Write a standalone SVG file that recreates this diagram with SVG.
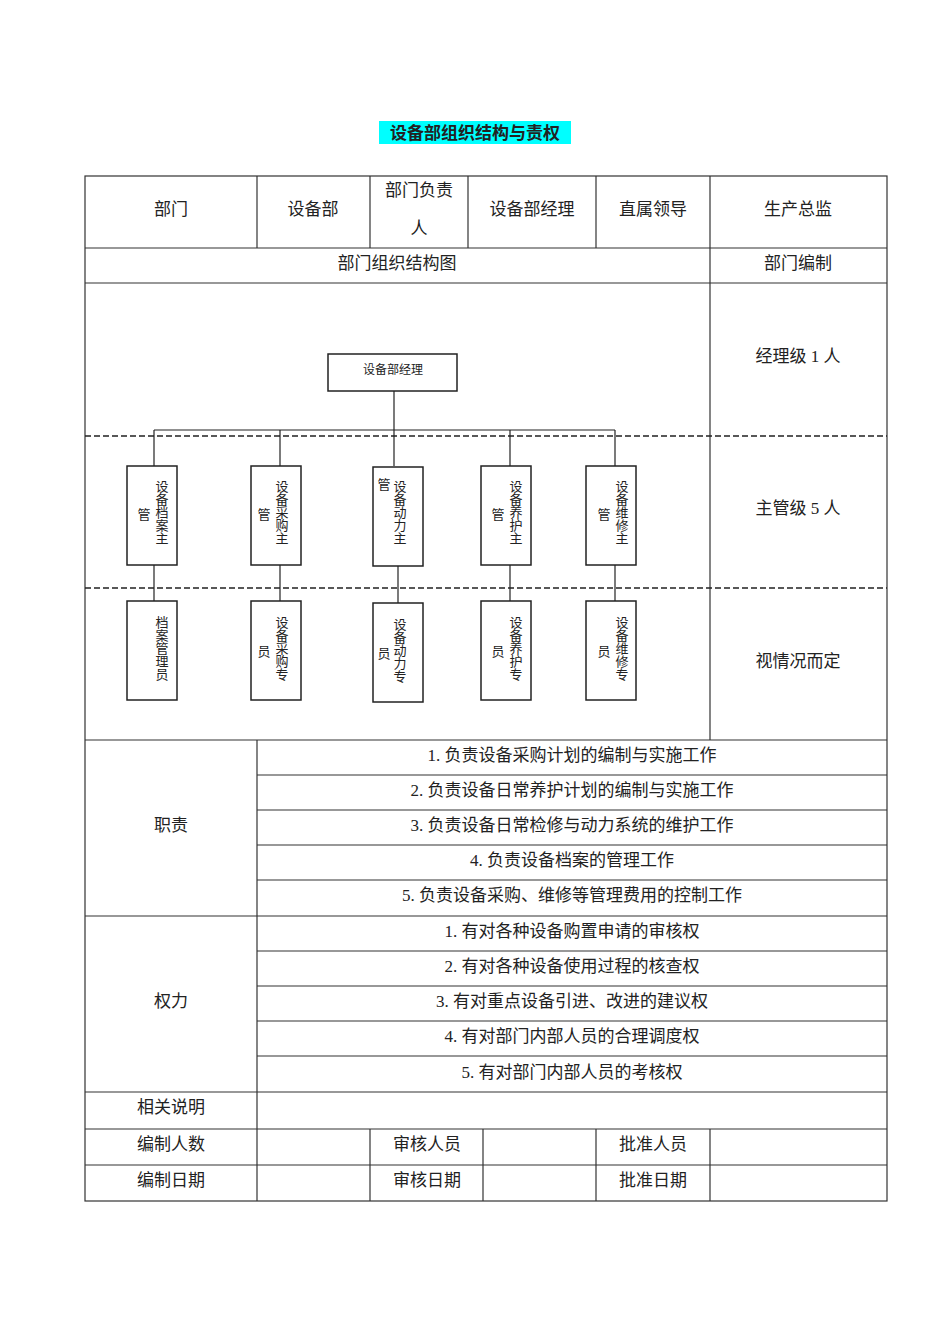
<svg xmlns="http://www.w3.org/2000/svg" width="950" height="1344" viewBox="0 0 950 1344">
<style>
text{font-family:"Liberation Serif","Noto Sans CJK SC",serif;fill:#222}
.t{font-size:17px;text-anchor:middle}
.s{font-size:12px;text-anchor:middle}
.v{font-size:13px;writing-mode:vertical-rl}
.g line{stroke:#333;stroke-width:1.2}
.d{stroke:#222;stroke-width:1.5;stroke-dasharray:6,3}
.b{fill:#fff;stroke:#222;stroke-width:1.5}
.c line{stroke:#222;stroke-width:1.2}
</style>
<rect x="379" y="121" width="192" height="23" fill="#00ffff"/>
<text x="475" y="139" font-size="17" font-weight="bold" text-anchor="middle">设备部组织结构与责权</text>
<g class="g" id="grid">
<rect x="85" y="176" width="802" height="1025" fill="none" stroke="#333" stroke-width="1.2"/>
<line x1="257" y1="176" x2="257" y2="248"/><line x1="370" y1="176" x2="370" y2="248"/><line x1="468" y1="176" x2="468" y2="248"/><line x1="596" y1="176" x2="596" y2="248"/>
<line x1="710" y1="176" x2="710" y2="740"/>
<line x1="85" y1="248" x2="887" y2="248"/><line x1="85" y1="283" x2="887" y2="283"/><line x1="85" y1="740" x2="887" y2="740"/>
<line x1="257" y1="740" x2="257" y2="1201"/>
<line x1="257" y1="775" x2="887" y2="775"/><line x1="257" y1="810" x2="887" y2="810"/><line x1="257" y1="845" x2="887" y2="845"/><line x1="257" y1="880" x2="887" y2="880"/>
<line x1="85" y1="916" x2="887" y2="916"/>
<line x1="257" y1="951" x2="887" y2="951"/><line x1="257" y1="986" x2="887" y2="986"/><line x1="257" y1="1021" x2="887" y2="1021"/><line x1="257" y1="1056" x2="887" y2="1056"/>
<line x1="85" y1="1092" x2="887" y2="1092"/><line x1="85" y1="1129" x2="887" y2="1129"/><line x1="85" y1="1165" x2="887" y2="1165"/>
<line x1="370" y1="1129" x2="370" y2="1201"/><line x1="483" y1="1129" x2="483" y2="1201"/><line x1="596" y1="1129" x2="596" y2="1201"/><line x1="710" y1="1129" x2="710" y2="1201"/>
</g>
<line class="d" x1="85" y1="436" x2="887" y2="436"/>
<line class="d" x1="85" y1="588" x2="887" y2="588"/>
<g id="labels">
<text class="t" x="171" y="215">部门</text><text class="t" x="313" y="215">设备部</text>
<text class="t" x="419" y="196">部门负责</text><text class="t" x="419" y="234">人</text>
<text class="t" x="532" y="215">设备部经理</text><text class="t" x="653" y="215">直属领导</text><text class="t" x="798" y="215">生产总监</text>
<text class="t" x="397" y="269">部门组织结构图</text><text class="t" x="798" y="269">部门编制</text>
<text class="t" x="798" y="362">经理级 1 人</text><text class="t" x="798" y="514">主管级 5 人</text><text class="t" x="798" y="667">视情况而定</text>
<text class="t" x="171" y="831">职责</text>
<text class="t" x="572" y="761">1. 负责设备采购计划的编制与实施工作</text>
<text class="t" x="572" y="796">2. 负责设备日常养护计划的编制与实施工作</text>
<text class="t" x="572" y="831">3. 负责设备日常检修与动力系统的维护工作</text>
<text class="t" x="572" y="866">4. 负责设备档案的管理工作</text>
<text class="t" x="572" y="901">5. 负责设备采购、维修等管理费用的控制工作</text>
<text class="t" x="171" y="1007">权力</text>
<text class="t" x="572" y="937">1. 有对各种设备购置申请的审核权</text>
<text class="t" x="572" y="972">2. 有对各种设备使用过程的核查权</text>
<text class="t" x="572" y="1007">3. 有对重点设备引进、改进的建议权</text>
<text class="t" x="572" y="1042">4. 有对部门内部人员的合理调度权</text>
<text class="t" x="572" y="1078">5. 有对部门内部人员的考核权</text>
<text class="t" x="171" y="1113">相关说明</text>
<text class="t" x="171" y="1150">编制人数</text><text class="t" x="427" y="1150">审核人员</text><text class="t" x="653" y="1150">批准人员</text>
<text class="t" x="171" y="1186">编制日期</text><text class="t" x="427" y="1186">审核日期</text><text class="t" x="653" y="1186">批准日期</text>
</g>
<g class="c" id="connectors">
<line x1="394" y1="391" x2="394" y2="466"/>
<line x1="154" y1="430" x2="615" y2="430"/>
<line x1="154" y1="430" x2="154" y2="466"/><line x1="280" y1="430" x2="280" y2="466"/><line x1="510" y1="430" x2="510" y2="466"/><line x1="615" y1="430" x2="615" y2="466"/>
<line x1="154" y1="565" x2="154" y2="601"/><line x1="280" y1="565" x2="280" y2="601"/><line x1="398" y1="566" x2="398" y2="603"/><line x1="510" y1="565" x2="510" y2="601"/><line x1="615" y1="565" x2="615" y2="601"/>
</g>
<g id="n0"><rect class="b" x="328" y="354" width="129" height="37"/><text class="s" x="393" y="374">设备部经理</text></g>
<g id="n1"><rect class="b" x="127" y="466" width="50" height="99"/><text class="v" x="161" y="480">设备档案主</text><text class="v" x="143" y="508">管</text></g>
<g id="n2"><rect class="b" x="251" y="466" width="50" height="99"/><text class="v" x="281" y="480">设备采购主</text><text class="v" x="263" y="508">管</text></g>
<g id="n3"><rect class="b" x="373" y="467" width="50" height="99"/><text class="v" x="399" y="480">设备动力主</text><text class="v" x="383" y="478">管</text></g>
<g id="n4"><rect class="b" x="481" y="466" width="50" height="99"/><text class="v" x="515" y="480">设备养护主</text><text class="v" x="497" y="508">管</text></g>
<g id="n5"><rect class="b" x="586" y="466" width="50" height="99"/><text class="v" x="621" y="480">设备维修主</text><text class="v" x="603" y="508">管</text></g>
<g id="n6"><rect class="b" x="127" y="601" width="50" height="99"/><text class="v" x="161" y="616">档案管理员</text></g>
<g id="n7"><rect class="b" x="251" y="601" width="50" height="99"/><text class="v" x="281" y="616">设备采购专</text><text class="v" x="263" y="645">员</text></g>
<g id="n8"><rect class="b" x="373" y="603" width="50" height="99"/><text class="v" x="399" y="618">设备动力专</text><text class="v" x="383" y="647">员</text></g>
<g id="n9"><rect class="b" x="481" y="601" width="50" height="99"/><text class="v" x="515" y="616">设备养护专</text><text class="v" x="497" y="645">员</text></g>
<g id="n10"><rect class="b" x="586" y="601" width="50" height="99"/><text class="v" x="621" y="616">设备维修专</text><text class="v" x="603" y="645">员</text></g>
</svg>
